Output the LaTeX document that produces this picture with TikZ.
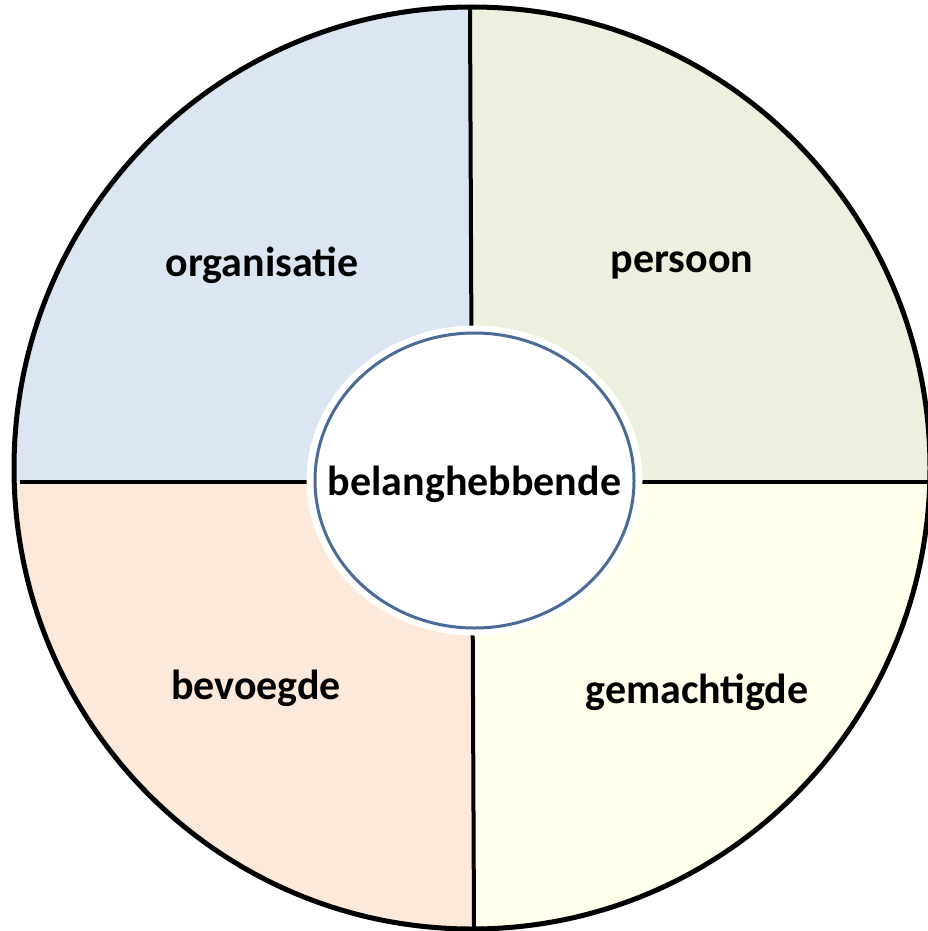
\documentclass[tikz,border=0pt]{standalone}
\usepackage{fontspec}
\setmainfont{Carlito}
\definecolor{qblue}{HTML}{DCE6F2}
\definecolor{qgreen}{HTML}{EBF1DE}
\definecolor{qpeach}{HTML}{FDE9D9}
\definecolor{qyellow}{HTML}{FFFFEB}
\definecolor{rimblue}{HTML}{4A6A98}
\tikzset{
  lbl/.style={font=\fontsize{42}{50}\selectfont\bfseries, text=black, inner sep=0},
  divider/.style={draw=black, line width=4},
  rim/.style={draw=rimblue, line width=3, fill=white}
}
\begin{document}
\begin{tikzpicture}[x=1pt,y=-1pt]
\useasboundingbox (0,0) rectangle (928,931);
\begin{scope}
  \clip (0,0) rectangle (928,931);
  \begin{scope}
    \clip (472,468) ellipse [x radius=458, y radius=461];
    \fill[qblue] (0,0) rectangle (472,482);
    \fill[qgreen] (472,0) rectangle (940,482);
    \fill[qpeach] (0,482) rectangle (472,940);
    \fill[qyellow] (472,482) rectangle (940,940);
  \end{scope}
  \draw[line width=5] (472,468) ellipse [x radius=458, y radius=461];
\end{scope}
\coordinate (ttop) at (470,8);
\coordinate (tbot) at (474,928);
\coordinate (lleft) at (20,482);
\coordinate (lright) at (928,482);
\draw[divider] (ttop) -- (tbot);
\draw[divider] (lleft) -- (lright);
\fill[white] (474.5,480.5) ellipse [x radius=168, y radius=155];
\draw[rim] (474.5,480.5) ellipse [x radius=159.5, y radius=147.5];
\node[lbl] (hub) at (474.5,484) {belanghebbende};
\node[lbl] (org) at (262,265) {organisatie};
\node[lbl] (per) at (682,265) {persoon};
\node[lbl] (bev) at (256,688) {bevoegde};
\node[lbl] (gem) at (697,692) {gemachtigde};
\end{tikzpicture}
\end{document}
